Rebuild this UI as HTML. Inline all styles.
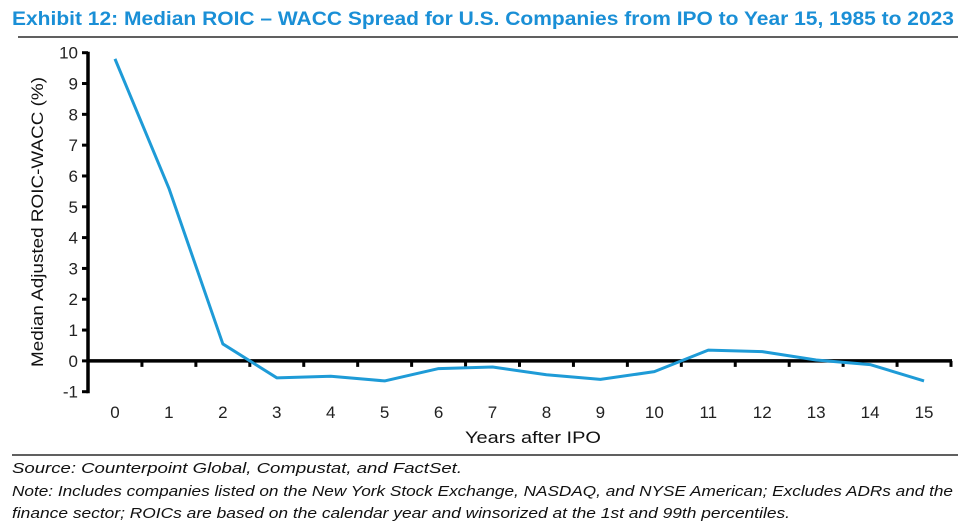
<!DOCTYPE html>
<html><head><meta charset="utf-8"><style>
html,body{margin:0;padding:0;background:#fff;}
svg{display:block;}
text{font-family:"Liberation Sans Narrow","Liberation Sans",sans-serif;}
</style></head><body>
<svg id="chart" width="970" height="525" viewBox="0 0 970 525">
<text x="12" y="25" font-size="19" font-weight="bold" fill="#1a8fd6" textLength="942" lengthAdjust="spacingAndGlyphs">Exhibit 12: Median ROIC – WACC Spread for U.S. Companies from IPO to Year 15, 1985 to 2023</text>
<line x1="18" y1="37" x2="958" y2="37" stroke="#000" stroke-width="1.2"/>
<g id="axes"></g>
<text x="533" y="443" font-size="17" text-anchor="middle" fill="#111" textLength="136" lengthAdjust="spacingAndGlyphs" style="font-family:'Liberation Sans',sans-serif">Years after IPO</text>
<text transform="translate(43,222) rotate(-90)" font-size="17" text-anchor="middle" fill="#111" textLength="290" lengthAdjust="spacingAndGlyphs" style="font-family:'Liberation Sans',sans-serif">Median Adjusted ROIC-WACC (%)</text>
<line x1="12" y1="455" x2="958" y2="455" stroke="#000" stroke-width="1.2"/>
<text x="12" y="473" font-size="15" font-style="italic" fill="#111" textLength="450" lengthAdjust="spacingAndGlyphs">Source: Counterpoint Global, Compustat, and FactSet.</text>
<text x="12" y="496" font-size="15" font-style="italic" fill="#111" textLength="941" lengthAdjust="spacingAndGlyphs">Note: Includes companies listed on the New York Stock Exchange, NASDAQ, and NYSE American; Excludes ADRs and the</text>
<text x="12" y="518" font-size="15" font-style="italic" fill="#111" textLength="778" lengthAdjust="spacingAndGlyphs">finance sector; ROICs are based on the calendar year and winsorized at the 1st and 99th percentiles.</text>
</svg>
<script>
const categories=["0","1","2","3","4","5","6","7","8","9","10","11","12","13","14","15"];
const spreadValues=[9.8,5.6,0.55,-0.55,-0.5,-0.65,-0.25,-0.2,-0.45,-0.6,-0.35,0.35,0.3,0.03,-0.12,-0.65];
const yTicks=[-1,0,1,2,3,4,5,6,7,8,9,10];
const NS="http://www.w3.org/2000/svg";
const g=document.getElementById('axes');
const x0=88,x1=951,yTop=52.7,yBot=391.7,vMin=-1,vMax=10;
const bw=(x1-x0)/categories.length;
function xPos(i){return x0+bw*(i+0.5);}
function yPos(v){return yBot-(v-vMin)/(vMax-vMin)*(yBot-yTop);}
function mk(tag,attrs){const e=document.createElementNS(NS,tag);for(const k in attrs)e.setAttribute(k,attrs[k]);g.appendChild(e);return e;}
yTicks.forEach(v=>{
  const t=mk('line',{x1:x0-6,x2:x0,y1:yPos(v),y2:yPos(v),stroke:'#000','stroke-width':3});
  
  
  const l=mk('text',{x:x0-10,y:yPos(v)+6,'font-size':17,'text-anchor':'end',fill:'#222',style:"font-family:'Liberation Sans',sans-serif"});
  l.textContent=v;
  
  
});
const ya=mk('line',{x1:x0,x2:x0,y1:yTop-1,y2:yBot+1.5,stroke:'#000','stroke-width':3.5});


const za=mk('line',{x1:x0,x2:x1+1,y1:yPos(0),y2:yPos(0),stroke:'#000','stroke-width':3.5});


for(let i=1;i<=categories.length;i++){
  const t=mk('line',{x1:x0+bw*i,x2:x0+bw*i,y1:yPos(0),y2:yPos(0)+6,stroke:'#000','stroke-width':3});
  
  
}
categories.forEach((c,i)=>{
  const l=mk('text',{x:xPos(i),y:418,'font-size':17,'text-anchor':'middle',fill:'#222',style:"font-family:'Liberation Sans',sans-serif"});
  l.textContent=c;
  
  
});
const pl=mk('polyline',{points:spreadValues.map((v,i)=>xPos(i)+','+yPos(v)).join(' '),fill:'none',stroke:'#1e9bd7','stroke-width':3,'stroke-linejoin':'round'});


</script>
</body></html>
